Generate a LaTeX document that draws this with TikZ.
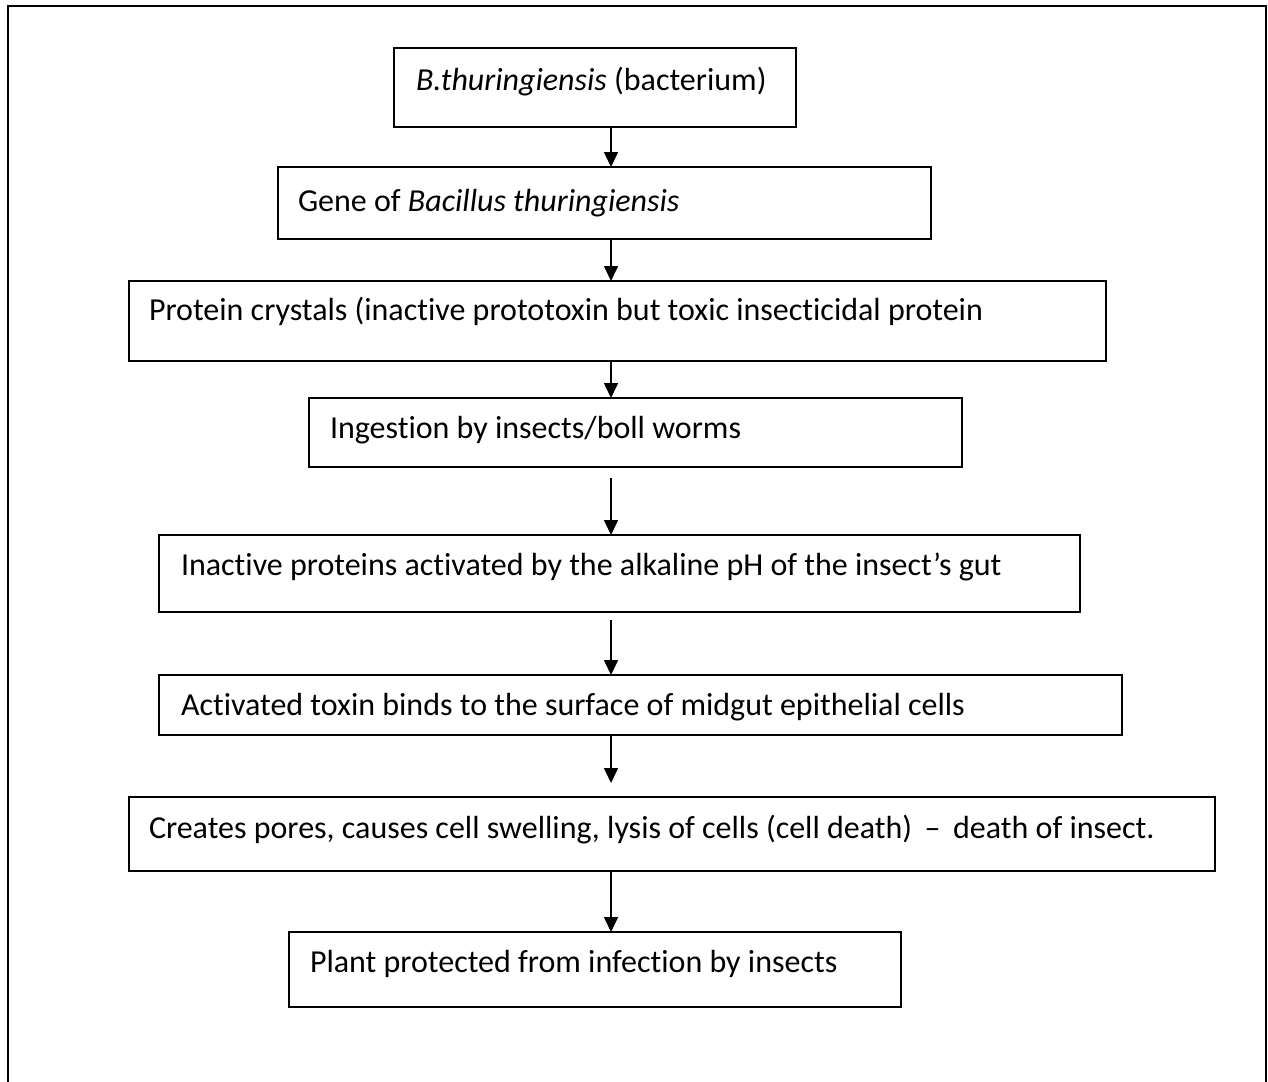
\documentclass[tikz,border=0pt]{standalone}
\usepackage{fontspec}
\setmainfont{Carlito}[Ligatures=NoCommon]
\usetikzlibrary{arrows.meta}

\tikzset{
  stepbox/.style={draw=black, line width=1.6pt, anchor=north west, inner sep=0pt, outer sep=0pt},
  lbl/.style={anchor=mid west, inner sep=0pt, outer sep=0pt, font=\fontsize{32}{38}\selectfont},
  flow/.style={draw=black, line width=1.6pt, -{Triangle[width=14pt,length=15pt]}},
  frame/.style={draw=black, line width=2pt}
}

\begin{document}
\begin{tikzpicture}[x=1pt, y=-1pt]
  \useasboundingbox (0,0) rectangle (1268,1081);
  \clip (0,0) rectangle (1268,1081);

  % outer frame, open at the foot of the page
  \draw[frame] (8,1095) -- (8,6) -- (1266,6) -- (1266,1095);

  % column of the arrows
  \coordinate (ax) at (611,0);

  % boxes
  \node[stepbox, minimum width=402pt,  minimum height=79pt] (b1) at (394,48)  {};
  \node[stepbox, minimum width=653pt,  minimum height=72pt] (b2) at (278,167) {};
  \node[stepbox, minimum width=977pt,  minimum height=80pt] (b3) at (129,281) {};
  \node[stepbox, minimum width=653pt,  minimum height=69pt] (b4) at (309,398) {};
  \node[stepbox, minimum width=921pt,  minimum height=77pt] (b5) at (159,535) {};
  \node[stepbox, minimum width=963pt,  minimum height=60pt] (b6) at (159,675) {};
  \node[stepbox, minimum width=1086pt, minimum height=74pt] (b7) at (129,797) {};
  \node[stepbox, minimum width=612pt,  minimum height=75pt] (b8) at (289,932) {};

  % texts
  \node[lbl] (t1) at (416,88)  {\textit{B.thuringiensis} (bacterium)};
  \node[lbl] (t2) at (298,209) {Gene of \textit{Bacillus thuringiensis}};
  \node[lbl] (t3) at (149,318) {Protein crystals (inactive prototoxin but toxic insecticidal protein};
  \node[lbl] (t4) at (330,436) {Ingestion by insects/boll worms};
  \node[lbl] (t5) at (181,573) {Inactive proteins activated by the alkaline pH of the insect’s gut};
  \node[lbl] (t6) at (181,713) {Activated toxin binds to the surface of midgut epithelial cells};
  \node[lbl] (t7) at (149,836) {Creates pores, causes cell swelling, lysis of cells (cell death) \,–\, death of insect.};
  \node[lbl] (t8) at (310,970) {Plant protected from infection by insects};

  % arrows
  \draw[flow] (b1.south -| ax) -- (b2.north -| ax);
  \draw[flow] (b2.south -| ax) -- (b3.north -| ax);
  \draw[flow] (b3.south -| ax) -- (b4.north -| ax);
  \draw[flow, shorten <=11pt] (b4.south -| ax) -- (b5.north -| ax);
  \draw[flow, shorten <=8pt]  (b5.south -| ax) -- (b6.north -| ax);
  \draw[flow, shorten >=14pt] (b6.south -| ax) -- (b7.north -| ax);
  \draw[flow] (b7.south -| ax) -- (b8.north -| ax);
\end{tikzpicture}
\end{document}
